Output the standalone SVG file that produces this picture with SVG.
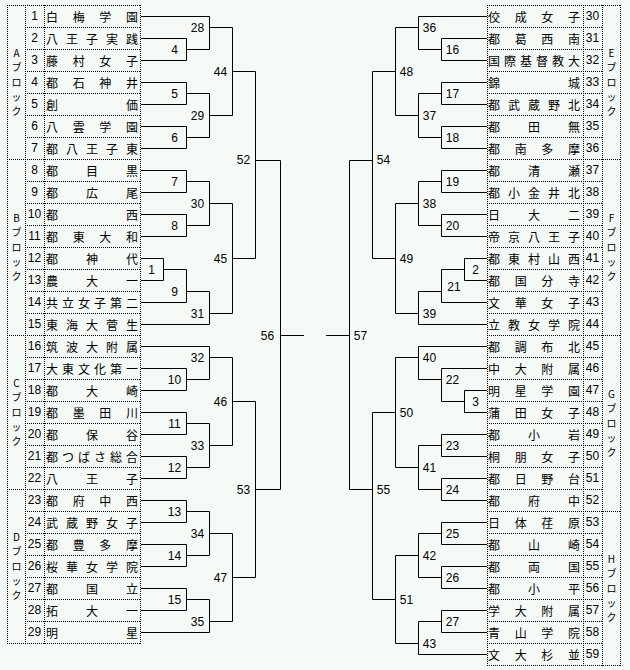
<svg xmlns="http://www.w3.org/2000/svg" width="630" height="670" viewBox="0 0 630 670">
<style>
.dot{fill:none;stroke:#000;stroke-width:1;stroke-dasharray:1 1}
.ln{fill:none;stroke:#000;stroke-width:1}
.nm{font-family:"Noto Sans CJK JP","Noto Sans CJK SC",sans-serif;font-size:12px;text-anchor:middle;dominant-baseline:central;fill:#000}
.no{font-family:"Liberation Sans",Arial,sans-serif;font-size:12px;text-anchor:middle;dominant-baseline:central;fill:#000}
.lb{font-family:"Liberation Sans",Arial,sans-serif;font-size:12px;text-anchor:middle;dominant-baseline:central;fill:#000}
.bk{font-family:"Noto Sans CJK JP","Noto Sans CJK SC",sans-serif;font-size:10px;text-anchor:middle;dominant-baseline:central;fill:#000}
</style>
<rect x="0" y="0" width="630" height="670" fill="#F5FAF6"/>
<g id="grid">
<path class="dot" d="M7.5,5V644M25.5,5V644M44.5,5V644M140.5,5V644"/>
<path class="dot" d="M7,5.5H141M25,27.5H141M25,49.5H141M25,71.5H141M25,93.5H141M25,115.5H141M25,137.5H141M7,159.5H141M25,181.5H141M25,203.5H141M25,225.5H141M25,247.5H141M25,269.5H141M25,291.5H141M25,313.5H141M7,335.5H141M25,357.5H141M25,379.5H141M25,401.5H141M25,423.5H141M25,445.5H141M25,467.5H141M7,489.5H141M25,511.5H141M25,533.5H141M25,555.5H141M25,577.5H141M25,599.5H141M25,621.5H141M7,643.5H141"/>
<path class="dot" d="M487.5,5V666M583.5,5V666M602.5,5V666M620.5,5V666"/>
<path class="dot" d="M487,5.5H621M487,27.5H603M487,49.5H603M487,71.5H603M487,93.5H603M487,115.5H603M487,137.5H603M487,159.5H621M487,181.5H603M487,203.5H603M487,225.5H603M487,247.5H603M487,269.5H603M487,291.5H603M487,313.5H603M487,335.5H621M487,357.5H603M487,379.5H603M487,401.5H603M487,423.5H603M487,445.5H603M487,467.5H603M487,489.5H603M487,511.5H621M487,533.5H603M487,555.5H603M487,577.5H603M487,599.5H603M487,621.5H603M487,643.5H603M487,665.5H621"/>
</g>
<g id="connectors">
<path class="ln" d="M141,38.5H186.5V60.5H141M141,82.5H186.5V104.5H141M141,126.5H186.5V148.5H141M141,170.5H186.5V192.5H141M141,214.5H186.5V236.5H141M141,258.5H163.5V280.5H141M163.5,269.5H186.5V302.5H141M141,368.5H186.5V390.5H141M141,412.5H186.5V434.5H141M141,456.5H186.5V478.5H141M141,500.5H186.5V522.5H141M141,544.5H186.5V566.5H141M141,588.5H186.5V610.5H141"/>
<path class="ln" d="M141,16.5H209.5V49.5H186.5M186.5,93.5H209.5V137.5H186.5M186.5,181.5H209.5V225.5H186.5M186.5,291.5H209.5V324.5H141M141,346.5H209.5V379.5H186.5M186.5,423.5H209.5V467.5H186.5M186.5,511.5H209.5V555.5H186.5M186.5,599.5H209.5V632.5H141"/>
<path class="ln" d="M209.5,27.5H232.5V115.5H209.5M209.5,203.5H232.5V313.5H209.5M209.5,357.5H232.5V445.5H209.5M209.5,533.5H232.5V621.5H209.5M232.5,71.5H255.5V258.5H232.5M232.5,401.5H255.5V577.5H232.5M255.5,160.5H280.5V489.5H255.5M280.5,335.5H304"/>
<path class="ln" d="M487,38.5H441.5V60.5H487M487,82.5H441.5V104.5H487M487,126.5H441.5V148.5H487M487,170.5H441.5V192.5H487M487,214.5H441.5V236.5H487M487,258.5H464.5V280.5H487M464.5,269.5H441.5V302.5H487M487,390.5H464.5V412.5H487M487,368.5H441.5V401.5H464.5M487,434.5H441.5V456.5H487M487,478.5H441.5V500.5H487M487,522.5H441.5V544.5H487M487,566.5H441.5V588.5H487M487,610.5H441.5V632.5H487"/>
<path class="ln" d="M487,16.5H418.5V49.5H441.5M441.5,93.5H418.5V137.5H441.5M441.5,181.5H418.5V225.5H441.5M441.5,291.5H418.5V324.5H487M487,346.5H418.5V379.5H441.5M441.5,445.5H418.5V489.5H441.5M441.5,533.5H418.5V577.5H441.5M441.5,621.5H418.5V654.5H487"/>
<path class="ln" d="M418.5,27.5H395.5V115.5H418.5M418.5,203.5H395.5V313.5H418.5M418.5,357.5H395.5V467.5H418.5M418.5,555.5H395.5V643.5H418.5M395.5,71.5H372.5V258.5H395.5M395.5,412.5H372.5V599.5H395.5M372.5,160.5H349.5V489.5H372.5M349.5,335.5H326"/>
</g>
<g id="blocks">
<g id="blockA"><text class="bk"><tspan x="16.5" y="51.8">A</tspan><tspan x="16.5" y="66.4">ブ</tspan><tspan x="16.5" y="81">ロ</tspan><tspan x="16.5" y="95.6">ッ</tspan><tspan x="16.5" y="110.2">ク</tspan></text></g>
<g id="blockB"><text class="bk"><tspan x="16.5" y="216.8">B</tspan><tspan x="16.5" y="231.4">ブ</tspan><tspan x="16.5" y="246">ロ</tspan><tspan x="16.5" y="260.6">ッ</tspan><tspan x="16.5" y="275.2">ク</tspan></text></g>
<g id="blockC"><text class="bk"><tspan x="16.5" y="381.8">C</tspan><tspan x="16.5" y="396.4">ブ</tspan><tspan x="16.5" y="411">ロ</tspan><tspan x="16.5" y="425.6">ッ</tspan><tspan x="16.5" y="440.2">ク</tspan></text></g>
<g id="blockD"><text class="bk"><tspan x="16.5" y="535.8">D</tspan><tspan x="16.5" y="550.4">ブ</tspan><tspan x="16.5" y="565">ロ</tspan><tspan x="16.5" y="579.6">ッ</tspan><tspan x="16.5" y="594.2">ク</tspan></text></g>
<g id="blockE"><text class="bk"><tspan x="611.5" y="51.8">E</tspan><tspan x="611.5" y="66.4">ブ</tspan><tspan x="611.5" y="81">ロ</tspan><tspan x="611.5" y="95.6">ッ</tspan><tspan x="611.5" y="110.2">ク</tspan></text></g>
<g id="blockF"><text class="bk"><tspan x="611.5" y="216.8">F</tspan><tspan x="611.5" y="231.4">ブ</tspan><tspan x="611.5" y="246">ロ</tspan><tspan x="611.5" y="260.6">ッ</tspan><tspan x="611.5" y="275.2">ク</tspan></text></g>
<g id="blockG"><text class="bk"><tspan x="611.5" y="392.8">G</tspan><tspan x="611.5" y="407.4">ブ</tspan><tspan x="611.5" y="422">ロ</tspan><tspan x="611.5" y="436.6">ッ</tspan><tspan x="611.5" y="451.2">ク</tspan></text></g>
<g id="blockH"><text class="bk"><tspan x="611.5" y="557.8">H</tspan><tspan x="611.5" y="572.4">ブ</tspan><tspan x="611.5" y="587">ロ</tspan><tspan x="611.5" y="601.6">ッ</tspan><tspan x="611.5" y="616.2">ク</tspan></text></g>
</g>
<g id="teams">
<g id="t1"><text class="no" x="34.5" y="16">1</text><text class="nm" x="52 78.7 105.3 132" y="16">白梅学園</text></g>
<g id="t2"><text class="no" x="34.5" y="38">2</text><text class="nm" x="52 72 92 112 132" y="38">八王子実践</text></g>
<g id="t3"><text class="no" x="34.5" y="60">3</text><text class="nm" x="52 78.7 105.3 132" y="60">藤村女子</text></g>
<g id="t4"><text class="no" x="34.5" y="82">4</text><text class="nm" x="52 78.7 105.3 132" y="82">都石神井</text></g>
<g id="t5"><text class="no" x="34.5" y="104">5</text><text class="nm" x="52 132" y="104">創価</text></g>
<g id="t6"><text class="no" x="34.5" y="126">6</text><text class="nm" x="52 78.7 105.3 132" y="126">八雲学園</text></g>
<g id="t7"><text class="no" x="34.5" y="148">7</text><text class="nm" x="52 72 92 112 132" y="148">都八王子東</text></g>
<g id="t8"><text class="no" x="34.5" y="170">8</text><text class="nm" x="52 92 132" y="170">都目黒</text></g>
<g id="t9"><text class="no" x="34.5" y="192">9</text><text class="nm" x="52 92 132" y="192">都広尾</text></g>
<g id="t10"><text class="no" x="34.5" y="214">10</text><text class="nm" x="52 132" y="214">都西</text></g>
<g id="t11"><text class="no" x="34.5" y="236">11</text><text class="nm" x="52 78.7 105.3 132" y="236">都東大和</text></g>
<g id="t12"><text class="no" x="34.5" y="258">12</text><text class="nm" x="52 92 132" y="258">都神代</text></g>
<g id="t13"><text class="no" x="34.5" y="280">13</text><text class="nm" x="52 92 132" y="280">農大一</text></g>
<g id="t14"><text class="no" x="34.5" y="302">14</text><text class="nm" x="52 68 84 100 116 132" y="302">共立女子第二</text></g>
<g id="t15"><text class="no" x="34.5" y="324">15</text><text class="nm" x="52 72 92 112 132" y="324">東海大菅生</text></g>
<g id="t16"><text class="no" x="34.5" y="346">16</text><text class="nm" x="52 72 92 112 132" y="346">筑波大附属</text></g>
<g id="t17"><text class="no" x="34.5" y="368">17</text><text class="nm" x="52 68 84 100 116 132" y="368">大東文化第一</text></g>
<g id="t18"><text class="no" x="34.5" y="390">18</text><text class="nm" x="52 92 132" y="390">都大崎</text></g>
<g id="t19"><text class="no" x="34.5" y="412">19</text><text class="nm" x="52 78.7 105.3 132" y="412">都墨田川</text></g>
<g id="t20"><text class="no" x="34.5" y="434">20</text><text class="nm" x="52 92 132" y="434">都保谷</text></g>
<g id="t21"><text class="no" x="34.5" y="456">21</text><text class="nm" x="52 68 84 100 116 132" y="456">都つばさ総合</text></g>
<g id="t22"><text class="no" x="34.5" y="478">22</text><text class="nm" x="52 92 132" y="478">八王子</text></g>
<g id="t23"><text class="no" x="34.5" y="500">23</text><text class="nm" x="52 78.7 105.3 132" y="500">都府中西</text></g>
<g id="t24"><text class="no" x="34.5" y="522">24</text><text class="nm" x="52 72 92 112 132" y="522">武蔵野女子</text></g>
<g id="t25"><text class="no" x="34.5" y="544">25</text><text class="nm" x="52 78.7 105.3 132" y="544">都豊多摩</text></g>
<g id="t26"><text class="no" x="34.5" y="566">26</text><text class="nm" x="52 72 92 112 132" y="566">桜華女学院</text></g>
<g id="t27"><text class="no" x="34.5" y="588">27</text><text class="nm" x="52 92 132" y="588">都国立</text></g>
<g id="t28"><text class="no" x="34.5" y="610">28</text><text class="nm" x="52 92 132" y="610">拓大一</text></g>
<g id="t29"><text class="no" x="34.5" y="632">29</text><text class="nm" x="52 132" y="632">明星</text></g>
<g id="t30"><text class="no" x="592.5" y="16">30</text><text class="nm" x="494 520.7 547.3 574" y="16">佼成女子</text></g>
<g id="t31"><text class="no" x="592.5" y="38">31</text><text class="nm" x="494 520.7 547.3 574" y="38">都葛西南</text></g>
<g id="t32"><text class="no" x="592.5" y="60">32</text><text class="nm" x="494 510 526 542 558 574" y="60">国際基督教大</text></g>
<g id="t33"><text class="no" x="592.5" y="82">33</text><text class="nm" x="494 574" y="82">錦城</text></g>
<g id="t34"><text class="no" x="592.5" y="104">34</text><text class="nm" x="494 514 534 554 574" y="104">都武蔵野北</text></g>
<g id="t35"><text class="no" x="592.5" y="126">35</text><text class="nm" x="494 534 574" y="126">都田無</text></g>
<g id="t36"><text class="no" x="592.5" y="148">36</text><text class="nm" x="494 520.7 547.3 574" y="148">都南多摩</text></g>
<g id="t37"><text class="no" x="592.5" y="170">37</text><text class="nm" x="494 534 574" y="170">都清瀬</text></g>
<g id="t38"><text class="no" x="592.5" y="192">38</text><text class="nm" x="494 514 534 554 574" y="192">都小金井北</text></g>
<g id="t39"><text class="no" x="592.5" y="214">39</text><text class="nm" x="494 534 574" y="214">日大二</text></g>
<g id="t40"><text class="no" x="592.5" y="236">40</text><text class="nm" x="494 514 534 554 574" y="236">帝京八王子</text></g>
<g id="t41"><text class="no" x="592.5" y="258">41</text><text class="nm" x="494 514 534 554 574" y="258">都東村山西</text></g>
<g id="t42"><text class="no" x="592.5" y="280">42</text><text class="nm" x="494 520.7 547.3 574" y="280">都国分寺</text></g>
<g id="t43"><text class="no" x="592.5" y="302">43</text><text class="nm" x="494 520.7 547.3 574" y="302">文華女子</text></g>
<g id="t44"><text class="no" x="592.5" y="324">44</text><text class="nm" x="494 514 534 554 574" y="324">立教女学院</text></g>
<g id="t45"><text class="no" x="592.5" y="346">45</text><text class="nm" x="494 520.7 547.3 574" y="346">都調布北</text></g>
<g id="t46"><text class="no" x="592.5" y="368">46</text><text class="nm" x="494 520.7 547.3 574" y="368">中大附属</text></g>
<g id="t47"><text class="no" x="592.5" y="390">47</text><text class="nm" x="494 520.7 547.3 574" y="390">明星学園</text></g>
<g id="t48"><text class="no" x="592.5" y="412">48</text><text class="nm" x="494 520.7 547.3 574" y="412">蒲田女子</text></g>
<g id="t49"><text class="no" x="592.5" y="434">49</text><text class="nm" x="494 534 574" y="434">都小岩</text></g>
<g id="t50"><text class="no" x="592.5" y="456">50</text><text class="nm" x="494 520.7 547.3 574" y="456">桐朋女子</text></g>
<g id="t51"><text class="no" x="592.5" y="478">51</text><text class="nm" x="494 520.7 547.3 574" y="478">都日野台</text></g>
<g id="t52"><text class="no" x="592.5" y="500">52</text><text class="nm" x="494 534 574" y="500">都府中</text></g>
<g id="t53"><text class="no" x="592.5" y="522">53</text><text class="nm" x="494 520.7 547.3 574" y="522">日体荏原</text></g>
<g id="t54"><text class="no" x="592.5" y="544">54</text><text class="nm" x="494 534 574" y="544">都山崎</text></g>
<g id="t55"><text class="no" x="592.5" y="566">55</text><text class="nm" x="494 534 574" y="566">都両国</text></g>
<g id="t56"><text class="no" x="592.5" y="588">56</text><text class="nm" x="494 534 574" y="588">都小平</text></g>
<g id="t57"><text class="no" x="592.5" y="610">57</text><text class="nm" x="494 520.7 547.3 574" y="610">学大附属</text></g>
<g id="t58"><text class="no" x="592.5" y="632">58</text><text class="nm" x="494 520.7 547.3 574" y="632">青山学院</text></g>
<g id="t59"><text class="no" x="592.5" y="654">59</text><text class="nm" x="494 520.7 547.3 574" y="654">文大杉並</text></g>
</g>
<g id="matches">
<g id="m1"><text class="lb" x="151.5" y="270">1</text></g>
<g id="m2"><text class="lb" x="475.5" y="270">2</text></g>
<g id="m3"><text class="lb" x="475.5" y="402">3</text></g>
<g id="m4"><text class="lb" x="174.5" y="50">4</text></g>
<g id="m5"><text class="lb" x="174.5" y="94">5</text></g>
<g id="m6"><text class="lb" x="174.5" y="138">6</text></g>
<g id="m7"><text class="lb" x="174.5" y="182">7</text></g>
<g id="m8"><text class="lb" x="174.5" y="226">8</text></g>
<g id="m9"><text class="lb" x="174.5" y="292">9</text></g>
<g id="m10"><text class="lb" x="174.5" y="380">10</text></g>
<g id="m11"><text class="lb" x="174.5" y="424">11</text></g>
<g id="m12"><text class="lb" x="174.5" y="468">12</text></g>
<g id="m13"><text class="lb" x="174.5" y="512">13</text></g>
<g id="m14"><text class="lb" x="174.5" y="556">14</text></g>
<g id="m15"><text class="lb" x="174.5" y="600">15</text></g>
<g id="m16"><text class="lb" x="452.5" y="50">16</text></g>
<g id="m17"><text class="lb" x="452.5" y="94">17</text></g>
<g id="m18"><text class="lb" x="452.5" y="138">18</text></g>
<g id="m19"><text class="lb" x="452.5" y="182">19</text></g>
<g id="m20"><text class="lb" x="452.5" y="226">20</text></g>
<g id="m21"><text class="lb" x="454" y="287">21</text></g>
<g id="m22"><text class="lb" x="452.5" y="380">22</text></g>
<g id="m23"><text class="lb" x="452.5" y="446">23</text></g>
<g id="m24"><text class="lb" x="452.5" y="490">24</text></g>
<g id="m25"><text class="lb" x="452.5" y="534">25</text></g>
<g id="m26"><text class="lb" x="452.5" y="578">26</text></g>
<g id="m27"><text class="lb" x="452.5" y="622">27</text></g>
<g id="m28"><text class="lb" x="197.5" y="28">28</text></g>
<g id="m29"><text class="lb" x="197.5" y="116">29</text></g>
<g id="m30"><text class="lb" x="197.5" y="204">30</text></g>
<g id="m31"><text class="lb" x="197.5" y="314">31</text></g>
<g id="m32"><text class="lb" x="197.5" y="358">32</text></g>
<g id="m33"><text class="lb" x="197.5" y="446">33</text></g>
<g id="m34"><text class="lb" x="197.5" y="534">34</text></g>
<g id="m35"><text class="lb" x="197.5" y="622">35</text></g>
<g id="m36"><text class="lb" x="429.5" y="28">36</text></g>
<g id="m37"><text class="lb" x="429.5" y="116">37</text></g>
<g id="m38"><text class="lb" x="429.5" y="204">38</text></g>
<g id="m39"><text class="lb" x="429.5" y="314">39</text></g>
<g id="m40"><text class="lb" x="429.5" y="358">40</text></g>
<g id="m41"><text class="lb" x="429.5" y="468">41</text></g>
<g id="m42"><text class="lb" x="429.5" y="556">42</text></g>
<g id="m43"><text class="lb" x="429.5" y="644">43</text></g>
<g id="m44"><text class="lb" x="220.5" y="72">44</text></g>
<g id="m45"><text class="lb" x="220.5" y="259">45</text></g>
<g id="m46"><text class="lb" x="220.5" y="402">46</text></g>
<g id="m47"><text class="lb" x="220.5" y="578">47</text></g>
<g id="m48"><text class="lb" x="406.5" y="72">48</text></g>
<g id="m49"><text class="lb" x="406.5" y="259">49</text></g>
<g id="m50"><text class="lb" x="406.5" y="413">50</text></g>
<g id="m51"><text class="lb" x="406.5" y="600">51</text></g>
<g id="m52"><text class="lb" x="243.5" y="160">52</text></g>
<g id="m53"><text class="lb" x="243.5" y="490">53</text></g>
<g id="m54"><text class="lb" x="383.5" y="160">54</text></g>
<g id="m55"><text class="lb" x="383.5" y="490">55</text></g>
<g id="m56"><text class="lb" x="267.5" y="336">56</text></g>
<g id="m57"><text class="lb" x="360.5" y="336">57</text></g>
</g>
</svg>
